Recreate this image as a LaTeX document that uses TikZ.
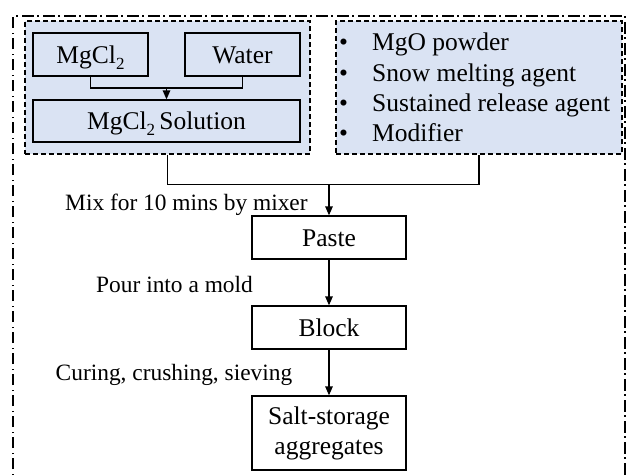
\documentclass[tikz,border=0pt]{standalone}
\usepackage{fontspec}
\setmainfont{Liberation Serif}
\usetikzlibrary{arrows.meta}
\definecolor{boxblue}{RGB}{218,227,243}
\newcommand{\mgsub}{MgCl\raisebox{-6pt}{\fontsize{17}{17}\selectfont 2}}
\begin{document}
\begin{tikzpicture}[x=1pt,y=-1pt,
  groupbox/.style={draw, dash pattern=on 5pt off 3pt, fill=boxblue, line width=1.2pt, inner sep=0pt},
  stepbox/.style={draw, line width=1.3pt, inner sep=0pt, font=\fontsize{25.5}{30}\selectfont, align=center},
  onel/.style={text height=17pt, text depth=0pt},
  lbl/.style={font=\fontsize{23.4}{26}\selectfont, inner sep=0pt, anchor=base west},
  bul/.style={font=\fontsize{25.5}{30}\selectfont, inner sep=0pt, anchor=base west},
  arr/.style={-{Triangle[length=9pt,width=7.5pt]}, line width=1.3pt},
  conn/.style={line width=1.3pt}]
\useasboundingbox (0,0) rectangle (632,475);
\begin{scope}
\clip (0,0) rectangle (632,475);
\draw[line width=1.3pt, dash pattern=on 11.5pt off 3.5pt on 1.5pt off 4.5pt] (13,490) -- (13,16) -- (625,16) -- (625,490);
\end{scope}
% group boxes
\node[groupbox, minimum width=285pt, minimum height=133pt] (gl) at (167.5,87.5) {};
\node[groupbox, minimum width=286pt, minimum height=133pt] (gr) at (479,87.5) {};
% inner boxes
\node[stepbox, onel, minimum width=115pt, minimum height=43pt] (mg) at (90.5,54.5) {\mgsub};
\node[stepbox, onel, minimum width=115pt, minimum height=43pt] (water) at (242.5,54.5) {Water};
\node[stepbox, onel, minimum width=267pt, minimum height=42pt] (sol) at (166.5,121) {\mgsub\,Solution};
\coordinate (j1) at (166.5,88);
\draw[conn] (mg.south) |- (j1) -| (water.south);
\draw[arr] (j1) -- (sol.north);
% bullet list
\node[bul] (b1) at (339,50) {\makebox[33pt][l]{•}MgO powder};
\node[bul] (b2) at (339,81) {\makebox[33pt][l]{•}Snow melting agent};
\node[bul] (b3) at (339,111) {\makebox[33pt][l]{•}Sustained release agent};
\node[bul] (b4) at (339,141) {\makebox[33pt][l]{•}Modifier};
% process
\node[stepbox, onel, minimum width=154pt, minimum height=43pt] (paste) at (329,237.5) {Paste};
\node[stepbox, onel, minimum width=154pt, minimum height=43pt] (block) at (329,327.5) {Block};
\node[stepbox, minimum width=154pt, minimum height=74pt] (salt) at (329,433) {Salt-storage\\aggregates};
\coordinate (jm) at (329,184);
\draw[conn] (gl.south) -- ++(0,30) -| (gr.south);
\draw[arr] (jm) -- (paste.north);
\draw[arr] (paste.south) -- (block.north);
\draw[arr] (block.south) -- (salt.north);
\node[lbl] (l1) at (65,210) {Mix for 10 mins by mixer};
\node[lbl] (l2) at (96,292) {Pour into a mold};
\node[lbl] (l3) at (55.5,380) {Curing, crushing, sieving};
\end{tikzpicture}
\end{document}
